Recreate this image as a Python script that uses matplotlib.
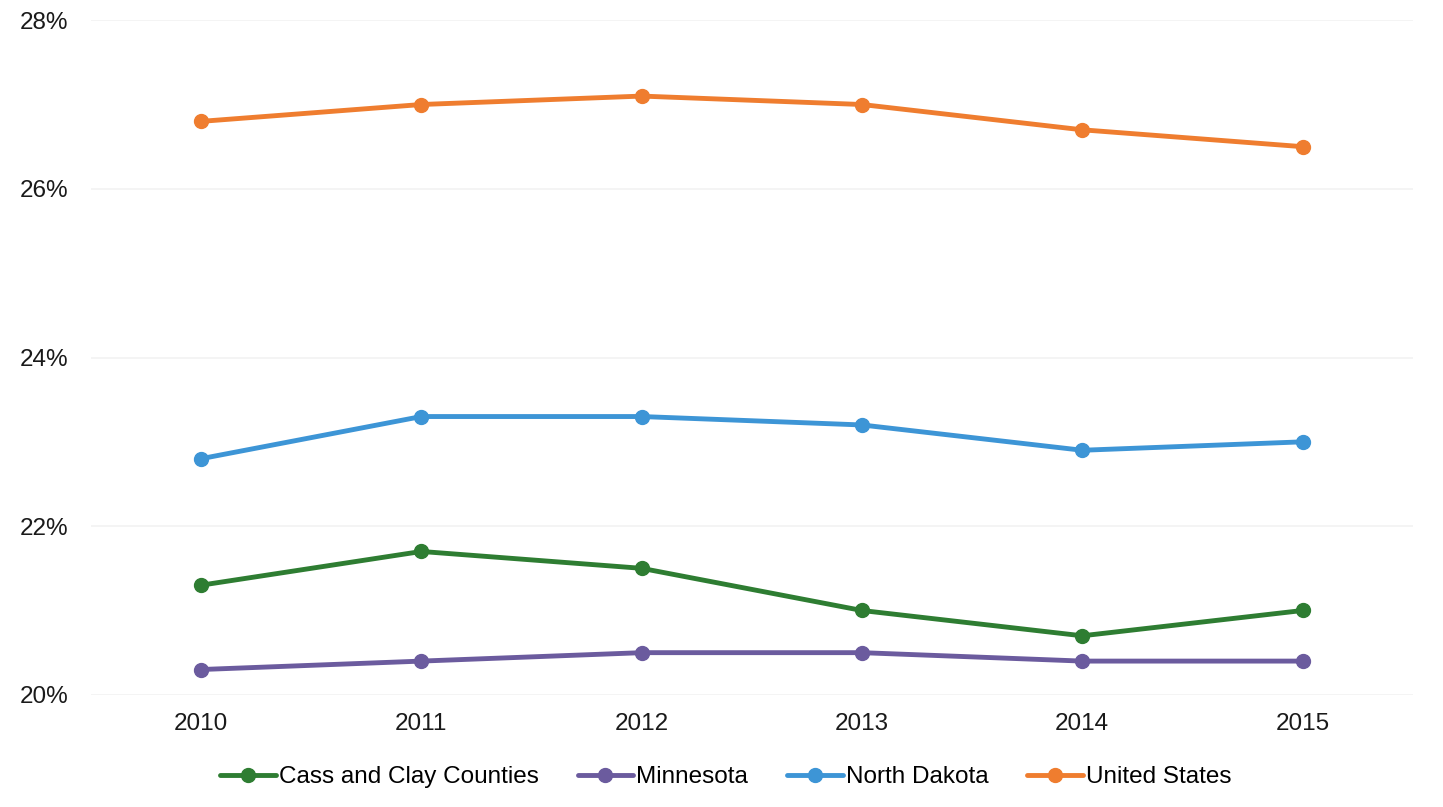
import matplotlib
matplotlib.use("Agg")
import matplotlib.pyplot as plt
from matplotlib.ticker import FuncFormatter

plt.rcParams['font.family'] = ['Liberation Sans', 'DejaVu Sans']

# ---------- Data ----------
years = ["2010", "2011", "2012", "2013", "2014", "2015"]
cass_clay = [21.3, 21.7, 21.5, 21.0, 20.7, 21.0]
minnesota = [20.3, 20.4, 20.5, 20.5, 20.4, 20.4]
north_dakota = [22.8, 23.3, 23.3, 23.2, 22.9, 23.0]
united_states = [26.8, 27.0, 27.1, 27.0, 26.7, 26.5]

series = [
    ("Cass and Clay Counties", cass_clay, "#2e7d32"),
    ("Minnesota", minnesota, "#6b5b9e"),
    ("North Dakota", north_dakota, "#3d95d6"),
    ("United States", united_states, "#ef7d2f"),
]

# ---------- Plot ----------
fig = plt.figure(figsize=(14.43, 8.07), dpi=100)
ax = fig.add_axes([0.063, 0.139, 0.916, 0.836])

x = list(range(len(years)))
for name, vals, color in series:
    ax.plot(x, vals, color=color, lw=3.5, marker="o", ms=10,
            label=name, solid_capstyle="round")

ax.set_xlim(-0.5, len(years) - 0.5)
ax.set_ylim(20, 28)
ax.set_yticks([20, 22, 24, 26, 28])
ax.yaxis.set_major_formatter(FuncFormatter(lambda v, p: f"{v:.0f}%"))
ax.set_xticks(x)
ax.set_xticklabels(years)

ax.grid(axis="y", color="#f2f2f2", lw=1.2)
ax.set_axisbelow(True)
for s in ax.spines.values():
    s.set_visible(False)
ax.tick_params(axis="both", length=0, labelsize=17.5, colors="#1a1a1a")
ax.tick_params(axis="y", pad=16)
ax.tick_params(axis="x", pad=13)

fig.legend(loc="lower center", bbox_to_anchor=(0.503, -0.004), ncol=4,
           frameon=False, fontsize=17.5, handlelength=2.3, handletextpad=0.12,
           columnspacing=1.6)

fig.savefig("out.png", dpi=100, facecolor="white")
